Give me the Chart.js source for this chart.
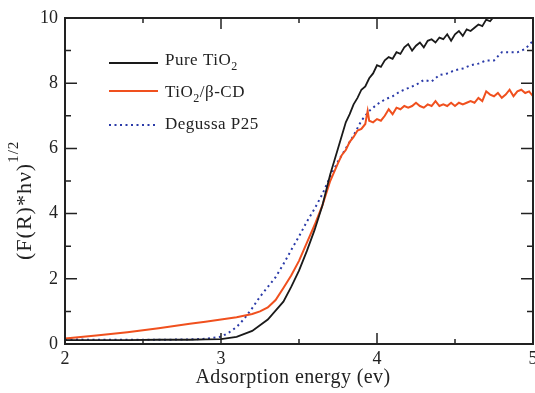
<!DOCTYPE html>
<html>
<head>
<meta charset="utf-8">
<script src="https://cdn.jsdelivr.net/npm/chart.js@4/dist/chart.umd.min.js"></script>
<style>
  html, body { margin: 0; padding: 0; background: #fff; }
  #wrap { width: 535px; height: 393px; }
</style>
</head>
<body>
<div id="wrap"><canvas id="canvas" width="535" height="393"></canvas></div>
<script>
// Pure TiO2
var pureEnergy = [2.0, 2.2, 2.4, 2.6, 2.8, 2.9, 3.0, 3.1, 3.2, 3.3, 3.4, 3.45, 3.5, 3.55, 3.6, 3.65, 3.7, 3.75,
  3.8, 3.825, 3.85, 3.875, 3.9, 3.925, 3.95, 3.975, 4.0, 4.025, 4.05, 4.075, 4.1, 4.125, 4.15, 4.175, 4.2,
  4.225, 4.25, 4.275, 4.3, 4.325, 4.35, 4.375, 4.4, 4.425, 4.45, 4.475, 4.5, 4.525, 4.55, 4.575, 4.6,
  4.625, 4.65, 4.675, 4.7, 4.725, 4.75, 4.775, 4.8];
var pureValues = [0.12, 0.12, 0.12, 0.13, 0.13, 0.14, 0.15, 0.22, 0.40, 0.75, 1.30, 1.75, 2.25, 2.85, 3.50, 4.25, 5.20, 6.00,
  6.80, 7.05, 7.35, 7.55, 7.80, 7.90, 8.15, 8.30, 8.55, 8.50, 8.70, 8.80, 8.75, 8.95, 8.90, 9.10, 9.20,
  9.00, 9.15, 9.25, 9.10, 9.30, 9.35, 9.25, 9.40, 9.35, 9.50, 9.30, 9.50, 9.60, 9.45, 9.65, 9.60,
  9.70, 9.80, 9.75, 9.95, 9.90, 10.05, 10.0, 10.08];

// TiO2/beta-CD
var cdEnergy = [2.0, 2.2, 2.4, 2.6, 2.8, 2.9, 3.0, 3.1, 3.2, 3.25, 3.3, 3.35, 3.4, 3.45, 3.5, 3.55, 3.6, 3.65, 3.7, 3.75,
  3.775, 3.8, 3.825, 3.85, 3.875, 3.9, 3.925, 3.94, 3.95, 3.975, 4.0, 4.025, 4.05, 4.075, 4.1, 4.125, 4.15,
  4.175, 4.2, 4.225, 4.25, 4.275, 4.3, 4.325, 4.35, 4.375, 4.4, 4.425, 4.45, 4.475, 4.5, 4.525, 4.55,
  4.575, 4.6, 4.625, 4.65, 4.675, 4.7, 4.725, 4.75, 4.775, 4.8, 4.825, 4.85, 4.875, 4.9, 4.925, 4.95, 4.975, 5.0];
var cdValues = [0.17, 0.26, 0.36, 0.48, 0.62, 0.68, 0.75, 0.82, 0.92, 1.00, 1.12, 1.35, 1.72, 2.10, 2.55, 3.10, 3.65, 4.25, 5.00, 5.55,
  5.80, 5.95, 6.20, 6.35, 6.55, 6.60, 6.75, 7.15, 6.85, 6.80, 6.90, 6.85, 7.00, 7.20, 7.05, 7.25, 7.20,
  7.30, 7.25, 7.30, 7.40, 7.30, 7.25, 7.35, 7.30, 7.45, 7.30, 7.35, 7.30, 7.40, 7.30, 7.40, 7.35,
  7.40, 7.45, 7.40, 7.55, 7.45, 7.75, 7.65, 7.60, 7.70, 7.55, 7.65, 7.80, 7.60, 7.75, 7.80, 7.70, 7.75, 7.60];

// Degussa P25
var p25Energy = [2.0, 2.2, 2.4, 2.6, 2.8, 2.9, 3.0, 3.05, 3.1, 3.15, 3.2, 3.25, 3.3, 3.35, 3.4, 3.45, 3.5, 3.55, 3.6, 3.65,
  3.7, 3.75, 3.8, 3.85, 3.9, 3.95, 4.0, 4.05, 4.1, 4.15, 4.2, 4.25, 4.3, 4.35, 4.4, 4.45, 4.5, 4.55, 4.6,
  4.65, 4.7, 4.75, 4.8, 4.85, 4.9, 4.95, 5.0];
var p25Values = [0.14, 0.13, 0.13, 0.13, 0.14, 0.16, 0.22, 0.35, 0.52, 0.78, 1.10, 1.45, 1.75, 2.05, 2.45, 2.88, 3.30, 3.75, 4.15, 4.60,
  5.13, 5.60, 6.00, 6.40, 6.85, 7.15, 7.35, 7.50, 7.60, 7.75, 7.85, 7.95, 8.10, 8.05, 8.25, 8.30, 8.40, 8.45, 8.55,
  8.60, 8.70, 8.70, 8.95, 8.95, 8.95, 9.05, 9.30];

var xTicks = [2, 3, 4, 5];
var yTicks = [0, 2, 4, 6, 8, 10];

function toPoints(xs, ys) {
  var pts = [];
  for (var i = 0; i < xs.length; i++) pts.push({x: xs[i], y: ys[i]});
  return pts;
}

var serif = '"Liberation Serif", "DejaVu Serif", serif';

var framePlugin = {
  id: 'frame',
  afterDraw: function(chart) {
    var ctx = chart.ctx;
    var a = chart.chartArea;
    var xs = chart.scales.x, ys = chart.scales.y;
    ctx.save();
    ctx.strokeStyle = '#222';
    ctx.lineWidth = 2;
    ctx.strokeRect(a.left, a.top, a.right - a.left, a.bottom - a.top);
    ctx.lineWidth = 1.5;
    ctx.beginPath();
    for (var v = 2; v <= 5.001; v += 0.5) {
      var px = xs.getPixelForValue(v);
      var len = Math.abs(v - Math.round(v)) < 0.01 ? 11 : 5;
      ctx.moveTo(px, a.bottom); ctx.lineTo(px, a.bottom - len);
      ctx.moveTo(px, a.top); ctx.lineTo(px, a.top + len);
    }
    for (var w = 0; w <= 10; w += 1) {
      var py = ys.getPixelForValue(w);
      var l2 = w % 2 === 0 ? 12 : 6;
      ctx.moveTo(a.left, py); ctx.lineTo(a.left + l2, py);
      ctx.moveTo(a.right, py); ctx.lineTo(a.right - l2, py);
    }
    ctx.stroke();

    // legend
    var rows = [
      {color: '#1a1a1a', dash: [], line: 63, text: 61, parts: [['Pure TiO', 0], ['2', 1]]},
      {color: '#f0501e', dash: [], line: 91, text: 93, parts: [['TiO', 0], ['2', 1], ['/\u03b2-CD', 0]]},
      {color: '#2a3aa8', dash: [2, 3.5], line: 125, text: 125, parts: [['Degussa P25', 0]]}
    ];
    ctx.letterSpacing = '0.5px';
    for (var r = 0; r < rows.length; r++) {
      ctx.strokeStyle = rows[r].color;
      ctx.lineWidth = 2;
      ctx.setLineDash(rows[r].dash);
      ctx.beginPath();
      ctx.moveTo(109, rows[r].line); ctx.lineTo(158, rows[r].line);
      ctx.stroke();
      ctx.setLineDash([]);
      var tx = 165;
      var ty = rows[r].text;
      ctx.fillStyle = '#222';
      ctx.textBaseline = 'middle';
      ctx.textAlign = 'left';
      rows[r].parts.forEach(function(p) {
        if (p[1]) {
          ctx.font = '12px ' + serif;
          ctx.fillText(p[0], tx, ty + 6);
        } else {
          ctx.font = '17px ' + serif;
          ctx.fillText(p[0], tx, ty);
        }
        tx += ctx.measureText(p[0]).width;
      });
    }

    // x axis title
    ctx.font = '20px ' + serif;
    ctx.letterSpacing = '0.4px';
    ctx.textAlign = 'center';
    ctx.textBaseline = 'alphabetic';
    ctx.fillText('Adsorption energy (ev)', 293, 383);

    // y axis title
    ctx.save();
    ctx.translate(25, 260);
    ctx.rotate(-Math.PI / 2);
    ctx.fillStyle = '#222';
    ctx.textAlign = 'left';
    ctx.textBaseline = 'middle';
    ctx.font = '22px ' + serif;
    ctx.letterSpacing = '1px';
    var main = '(F(R)*h\u03bd)';
    ctx.fillText(main, 0, 0);
    var mw = ctx.measureText(main).width;
    ctx.font = '15px ' + serif;
    ctx.letterSpacing = '1px';
    ctx.fillText('1/2', mw, -11);
    ctx.restore();
    ctx.restore();
  }
};

function init() {
  var ctx = document.getElementById('canvas').getContext('2d');
  window.myChart = new Chart(ctx, {
    type: 'line',
    data: {
      datasets: [{
        label: 'Pure TiO2',
        data: toPoints(pureEnergy, pureValues),
        borderColor: '#1a1a1a',
        borderWidth: 1.8,
        pointRadius: 0,
        tension: 0
      }, {
        label: 'TiO2/\u03b2-CD',
        data: toPoints(cdEnergy, cdValues),
        borderColor: '#f0501e',
        borderWidth: 2,
        pointRadius: 0,
        tension: 0
      }, {
        label: 'Degussa P25',
        data: toPoints(p25Energy, p25Values),
        borderColor: '#2a3aa8',
        borderWidth: 2,
        borderDash: [2, 3.5],
        pointRadius: 0,
        tension: 0
      }]
    },
    options: {
      responsive: false,
      animation: false,
      layout: { padding: { left: 0, right: 2, top: 18, bottom: 0 } },
      plugins: { legend: { display: false }, tooltip: { enabled: false } },
      scales: {
        x: {
          type: 'linear',
          min: 2, max: 5,
          afterBuildTicks: function(s) { s.ticks = xTicks.map(function(v) { return {value: v}; }); },
          afterFit: function(s) { s.height = 49; s.paddingLeft = 0; s.paddingRight = 0; },
          grid: { display: true, drawOnChartArea: false, drawTicks: false },
          border: { display: false },
          ticks: { color: '#222', padding: 4, font: { family: serif, size: 18 }, maxRotation: 0 }
        },
        y: {
          min: 0, max: 10,
          afterBuildTicks: function(s) { s.ticks = yTicks.map(function(v) { return {value: v}; }); },
          afterFit: function(s) { s.width = 65; },
          grid: { display: true, drawOnChartArea: false, drawTicks: false },
          border: { display: false },
          ticks: { color: '#222', padding: 7, font: { family: serif, size: 18 } }
        }
      }
    },
    plugins: [framePlugin]
  });
}

window.onload = init;
</script>
</body>
</html>
